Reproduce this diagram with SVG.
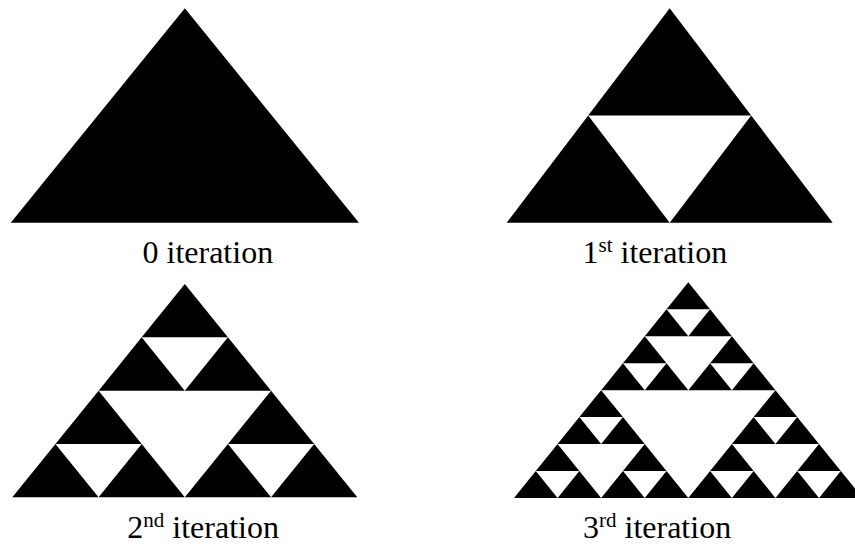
<svg xmlns="http://www.w3.org/2000/svg" xmlns:xlink="http://www.w3.org/1999/xlink" width="855" height="547" viewBox="0 0 855 547">
<style>
.lbl{font-family:"Liberation Serif","Times New Roman",serif;font-size:32px;fill:#000}
.sup{font-size:21px}
</style>
<defs>
<path id="t0" d="M0.5 0 L1 1 L0 1 Z" fill="#000"/>
<g id="t1">
<use xlink:href="#t0" transform="translate(0.25 0) scale(0.5)"/>
<use xlink:href="#t0" transform="translate(0 0.5) scale(0.5)"/>
<use xlink:href="#t0" transform="translate(0.5 0.5) scale(0.5)"/>
</g>
<g id="t2">
<use xlink:href="#t1" transform="translate(0.25 0) scale(0.5)"/>
<use xlink:href="#t1" transform="translate(0 0.5) scale(0.5)"/>
<use xlink:href="#t1" transform="translate(0.5 0.5) scale(0.5)"/>
</g>
<g id="t3">
<use xlink:href="#t2" transform="translate(0.25 0) scale(0.5)"/>
<use xlink:href="#t2" transform="translate(0 0.5) scale(0.5)"/>
<use xlink:href="#t2" transform="translate(0.5 0.5) scale(0.5)"/>
</g>
</defs>
<rect width="855" height="547" fill="#fff"/>
<g id="iter0">
<use xlink:href="#t0" transform="translate(10.7 8.3) scale(348.3 214.4)"/>
<text class="lbl" x="142.5" y="263">0 iteration</text>
</g>
<g id="iter1">
<use xlink:href="#t1" transform="translate(506.7 8.3) scale(326 214.4)"/>
<text class="lbl" x="582.5" y="263">1<tspan class="sup" dy="-11">st</tspan><tspan dy="11"> iteration</tspan></text>
</g>
<g id="iter2">
<use xlink:href="#t2" transform="translate(12.3 284) scale(345 213.3)"/>
<text class="lbl" x="127.3" y="538">2<tspan class="sup" dy="-11">nd</tspan><tspan dy="11"> iteration</tspan></text>
</g>
<g id="iter3">
<use xlink:href="#t3" transform="translate(514 282.3) scale(348.6 215.7)"/>
<text class="lbl" x="583" y="538">3<tspan class="sup" dy="-11">rd</tspan><tspan dy="11"> iteration</tspan></text>
</g>
</svg>
